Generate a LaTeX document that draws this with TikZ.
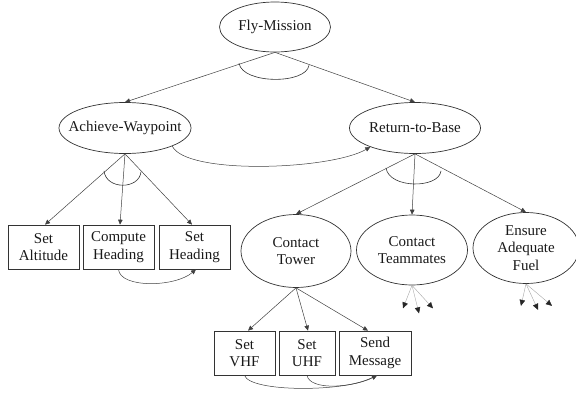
\documentclass[tikz,border=0pt]{standalone}
\usepackage{fontspec}
\setmainfont{Liberation Serif}
\usetikzlibrary{shapes.geometric,arrows.meta,calc}
\begin{document}
\begin{tikzpicture}[x=1pt,y=-1pt,
 lbl/.style={font=\fontsize{15}{17.5}\selectfont, text=black!90, align=center, inner sep=0pt},
 oval/.style={ellipse, draw=black!80, line width=0.7pt, inner sep=0pt},
 box/.style={rectangle, draw=black!80, line width=0.7pt, inner sep=0pt, minimum height=44pt, align=center, font=\fontsize{15}{17.5}\selectfont, text=black!90},
 link/.style={draw=black!75, line width=0.5pt, -{Triangle[length=5pt,width=4.5pt]}},
 andarc/.style={draw=black!80, line width=0.6pt},
 stub/.style={draw=black!35, line width=0.4pt, -{Triangle[length=6pt,width=5.5pt,color=black!85]}}
]
\useasboundingbox (0,0) rectangle (576,394);

% goal ellipses
\node[oval, minimum width=111pt, minimum height=50pt] (FM) at (275,27) {};
\node[lbl] (FMt) at (FM) {Fly-Mission};
\node[oval, minimum width=132pt, minimum height=51pt] (AW) at (125,128) {};
\node[lbl] (AWt) at (AW) {Achieve-Waypoint};
\node[oval, minimum width=131pt, minimum height=51pt] (RB) at (415,128) {};
\node[lbl] (RBt) at (RB) {Return-to-Base};
\node[oval, minimum width=110pt, minimum height=73pt] (CT) at (296,251) {};
\node[lbl] (CTt) at (CT) {Contact\\Tower};
\node[oval, minimum width=111pt, minimum height=70pt] (CM) at (412,250) {};
\node[lbl] (CMt) at (CM) {Contact\\Teammates};
\node[oval, minimum width=106pt, minimum height=71pt] (EF) at (526,248) {};
\node[lbl] (EFt) at (EF) {Ensure\\Adequate\\Fuel};

% action boxes
\node[box, minimum width=71pt] (SA) at (43.5,247) {Set\\Altitude};
\node[box, minimum width=71pt] (CH) at (118.5,247) {Compute\\Heading};
\node[box, minimum width=71pt] (SH) at (194.5,247) {Set\\Heading};
\node[box, minimum width=61pt] (VHF) at (244.5,353) {Set\\VHF};
\node[box, minimum width=56pt] (UHF) at (307,353) {Set\\UHF};
\node[box, minimum width=72pt] (SM) at (375,353) {Send\\Message};

% decomposition links
\draw[link] (FM.south) -- (AW.north);
\draw[link] (FM.south) -- (RB.north);
\draw[link] (AW.south) -- ([xshift=1.5pt]SA.north);
\draw[link] (AW.south) -- ([xshift=1.5pt]CH.north);
\draw[link] (AW.south) -- ([xshift=-2.5pt]SH.north);
\draw[link] (RB.south) -- (CT.north);
\draw[link] (RB.south) -- (CM.north);
\draw[link] (RB.south) -- (EF.north);
\draw[link] (CT.south) -- ([xshift=3.5pt]VHF.north);
\draw[link] (CT.south) -- ([xshift=1pt]UHF.north);
\draw[link] (CT.south) -- ([xshift=-7pt]SM.north);

% AND arcs
\draw[andarc] ([shift={(-36,11)}]FM.south) .. controls +(4,21) and +(-3,19) .. ([shift={(34,13)}]FM.south);
\draw[andarc] ([shift={(-21,17)}]AW.south) .. controls +(2,19) and +(-2,18) .. ([shift={(16,18)}]AW.south);
\draw[andarc] ([shift={(-29,14)}]RB.south) .. controls +(3,21) and +(-2,18) .. ([shift={(26,17)}]RB.south);

% ordering links
\draw[link] (AW.-21) .. controls +(14,29) and +(-40,23) .. (RB.-157);
\draw[link] (CH.south) .. controls +(1.5,19) and +(-21,18) .. ([xshift=1.5pt]SH.south);
\draw[link] (VHF.south) .. controls +(5.5,17) and +(-32,17) .. ([xshift=2pt]SM.south);
\draw[link] (UHF.south) .. controls +(3,15) and +(-27,13) .. ([xshift=2pt]SM.south);

% dangling sub-goal stubs
\coordinate (m1) at ($(CM.south)+(-9,23)$);
\coordinate (m2) at ($(CM.south)+(7,28)$);
\coordinate (m3) at ($(CM.south)+(21,23)$);
\coordinate (f1) at ($(EF.south)+(-5,22)$);
\coordinate (f2) at ($(EF.south)+(12,26)$);
\coordinate (f3) at ($(EF.south)+(26,22)$);
\draw[stub] (CM.south) -- (m1);
\draw[stub] (CM.south) -- (m2);
\draw[stub] (CM.south) -- (m3);
\draw[stub] (EF.south) -- (f1);
\draw[stub] (EF.south) -- (f2);
\draw[stub] (EF.south) -- (f3);
\end{tikzpicture}
\end{document}
